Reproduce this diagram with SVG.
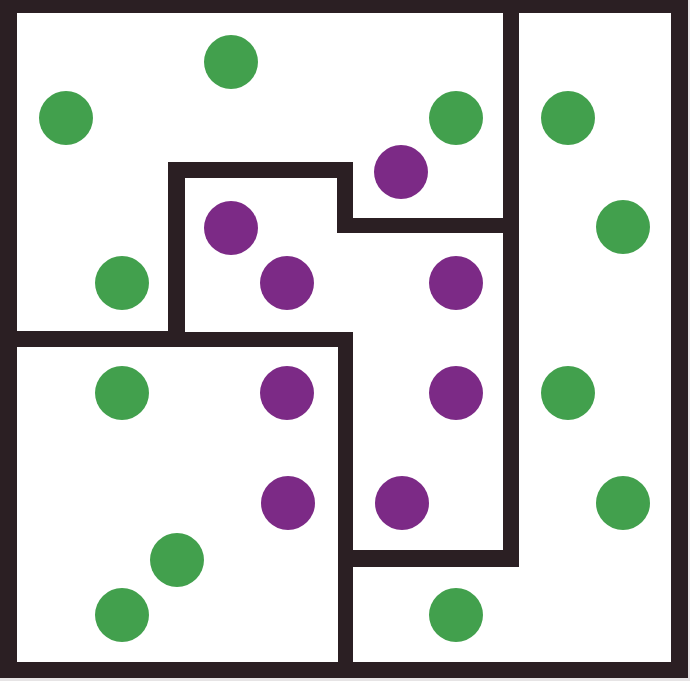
<svg xmlns="http://www.w3.org/2000/svg" width="690" height="681" viewBox="0 0 690 681">
<style>
.wall{fill:#2b1f23}
.room{fill:#ffffff}
.g{fill:#42a04d}
.p{fill:#7c2a86}
</style>
<rect x="0" y="0" width="690" height="681" fill="#e6e4e5"/>
<rect class="wall" x="0" y="0" width="688" height="678"/>
<g id="rooms">
<polygon id="room-top-left" class="room" points="17,13 503,13 503,218 353,218 353,162 168,162 168,331 17,331"/>
<polygon id="room-center" class="room" points="185,178 337,178 337,233 503,233 503,550 353,550 353,332 185,332"/>
<polygon id="room-bottom-left" class="room" points="17,347 338,347 338,662 17,662"/>
<polygon id="room-right" class="room" points="519,13 671,13 671,662 353,662 353,567 519,567"/>
</g>
<g id="green-dots">
<circle class="g" cx="231" cy="62" r="27"/>
<circle class="g" cx="66" cy="118" r="27"/>
<circle class="g" cx="456" cy="118" r="27"/>
<circle class="g" cx="568" cy="118" r="27"/>
<circle class="g" cx="623" cy="227" r="27"/>
<circle class="g" cx="122" cy="283" r="27"/>
<circle class="g" cx="122" cy="393" r="27"/>
<circle class="g" cx="568" cy="393" r="27"/>
<circle class="g" cx="623" cy="503" r="27"/>
<circle class="g" cx="177" cy="560" r="27"/>
<circle class="g" cx="122" cy="615" r="27"/>
<circle class="g" cx="456" cy="615" r="27"/>
</g>
<g id="purple-dots">
<circle class="p" cx="401" cy="172" r="27"/>
<circle class="p" cx="231" cy="228" r="27"/>
<circle class="p" cx="287" cy="283" r="27"/>
<circle class="p" cx="456" cy="283" r="27"/>
<circle class="p" cx="287" cy="393" r="27"/>
<circle class="p" cx="456" cy="393" r="27"/>
<circle class="p" cx="288" cy="503" r="27"/>
<circle class="p" cx="402" cy="503" r="27"/>
</g>
</svg>
